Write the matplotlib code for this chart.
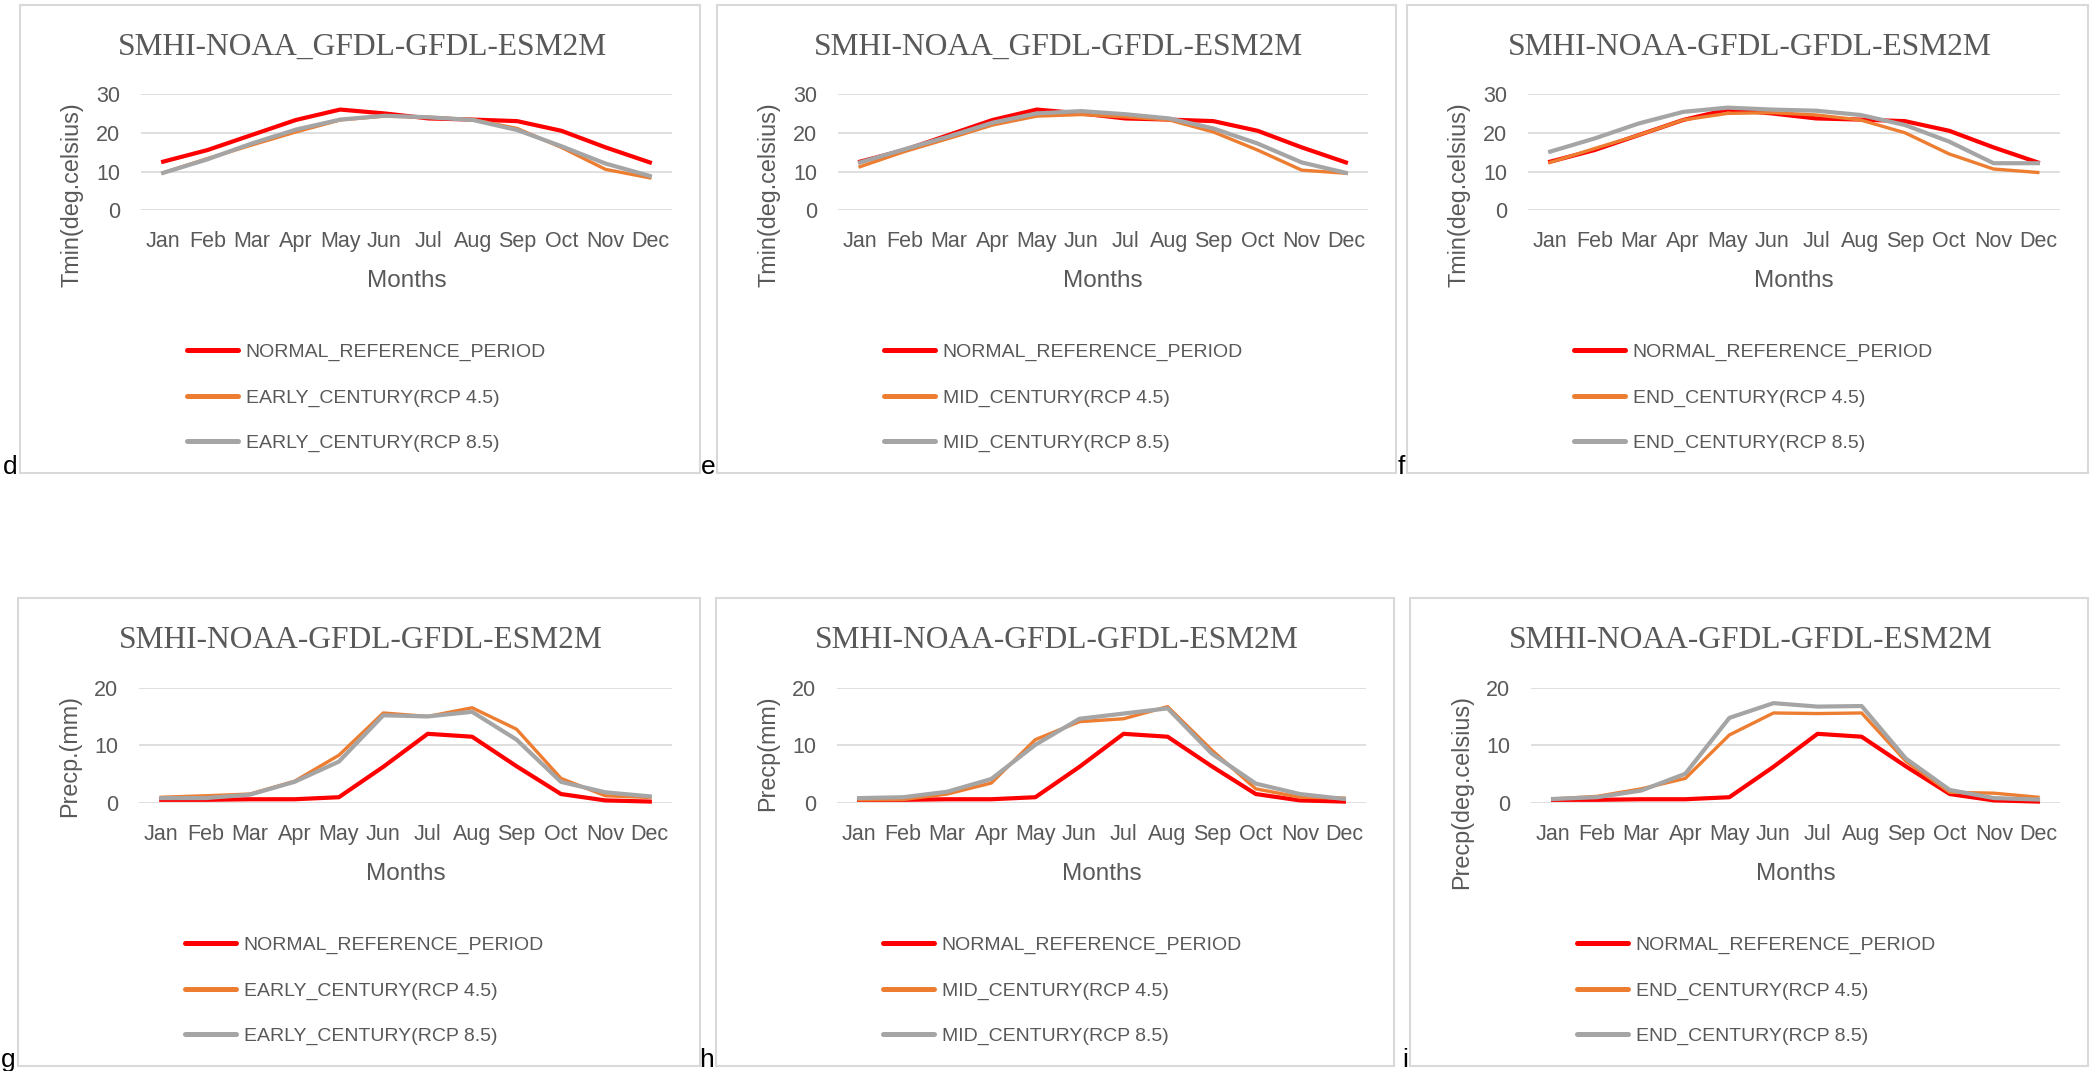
import matplotlib
matplotlib.use('Agg')
import matplotlib.pyplot as plt
from matplotlib.patches import Rectangle

# ---------------- data ----------------
months = ['Jan', 'Feb', 'Mar', 'Apr', 'May', 'Jun', 'Jul', 'Aug', 'Sep', 'Oct', 'Nov', 'Dec']

tmin_normal = [12.6, 15.6, 19.5, 23.4, 26.1, 25.1, 23.8, 23.5, 23.1, 20.6, 16.3, 12.4]
tmin_early_45 = [9.7, 13.4, 16.9, 20.3, 23.4, 24.4, 24.1, 23.5, 21.2, 16.3, 10.6, 8.4]
tmin_early_85 = [9.7, 13.2, 17.3, 20.9, 23.5, 24.5, 24.1, 23.4, 20.8, 16.6, 12.1, 8.9]
tmin_mid_45 = [11.3, 15.2, 18.6, 22.1, 24.4, 24.8, 24.2, 23.4, 20.3, 15.6, 10.4, 9.6]
tmin_mid_85 = [12.4, 15.8, 19.1, 22.7, 25.1, 25.7, 24.9, 23.8, 21.2, 17.3, 12.4, 9.7]
tmin_end_45 = [12.4, 16.0, 19.5, 23.4, 25.1, 25.3, 24.7, 23.4, 20.1, 14.6, 10.7, 9.8]
tmin_end_85 = [15.2, 18.6, 22.5, 25.5, 26.6, 26.1, 25.8, 24.7, 22.1, 17.8, 12.2, 12.2]

prec_normal = [0.6, 0.6, 0.7, 0.7, 1.05, 6.3, 12.0, 11.5, 6.4, 1.6, 0.5, 0.3]
prec_early_45 = [1.05, 1.3, 1.6, 3.8, 8.3, 15.6, 15.0, 16.5, 12.8, 4.3, 1.3, 1.0]
prec_early_85 = [0.9, 0.9, 1.5, 3.7, 7.2, 15.2, 15.0, 15.8, 11.0, 3.7, 1.9, 1.2]
prec_mid_45 = [0.6, 0.65, 1.6, 3.5, 11.0, 14.1, 14.6, 16.7, 9.2, 2.5, 1.05, 0.9]
prec_mid_85 = [0.9, 1.05, 2.0, 4.2, 10.1, 14.6, 15.5, 16.4, 8.6, 3.4, 1.6, 0.75]
prec_end_45 = [0.75, 1.2, 2.5, 4.3, 11.8, 15.6, 15.5, 15.6, 7.3, 1.9, 1.75, 1.05]
prec_end_85 = [0.75, 1.05, 2.2, 5.1, 14.75, 17.3, 16.7, 16.8, 7.75, 2.3, 0.9, 0.65]

titles = ['SMHI-NOAA_GFDL-GFDL-ESM2M', 'SMHI-NOAA_GFDL-GFDL-ESM2M', 'SMHI-NOAA-GFDL-GFDL-ESM2M',
          'SMHI-NOAA-GFDL-GFDL-ESM2M', 'SMHI-NOAA-GFDL-GFDL-ESM2M', 'SMHI-NOAA-GFDL-GFDL-ESM2M']
ylabels = ['Tmin(deg.celsius)', 'Tmin(deg.celsius)', 'Tmin(deg.celsius)',
           'Precp.(mm)', 'Precp(mm)', 'Precp(deg.celsius)']
panel_letters = ['d', 'e', 'f', 'g', 'h', 'i']
normal_label = 'NORMAL_REFERENCE_PERIOD'
period_labels = ['EARLY_CENTURY', 'MID_CENTURY', 'END_CENTURY']
yticks_tmin = [0, 10, 20, 30]
yticks_prec = [0, 10, 20]

# ---------------- style ----------------
W, H = 2090, 1071
fig = plt.figure(figsize=(W / 100, H / 100), dpi=100)
fig.patch.set_facecolor('white')

TXT = '#595959'
GRID = '#D9D9D9'
RED = '#FF0000'
ORANGE = '#ED7D31'
GRAY = '#A5A5A5'
SANS = ['Liberation Sans', 'DejaVu Sans']
SERIF = ['Liberation Serif', 'DejaVu Serif']

boxes = [(20, 5, 700, 473), (717, 5, 1396, 473), (1407, 5, 2088, 473),
         (18, 598, 700, 1066), (716, 598, 1394, 1066), (1410, 598, 2088, 1066)]

series_sets = [
    (tmin_normal, tmin_early_45, tmin_early_85),
    (tmin_normal, tmin_mid_45, tmin_mid_85),
    (tmin_normal, tmin_end_45, tmin_end_85),
    (prec_normal, prec_early_45, prec_early_85),
    (prec_normal, prec_mid_45, prec_mid_85),
    (prec_normal, prec_end_45, prec_end_85),
]


def fxp(px):
    return px / W


def fyp(py):
    return 1 - py / H


for i, (l, t, r, b) in enumerate(boxes):
    # panel frame
    fig.patches.append(Rectangle((fxp(l), fyp(b)), (r - l) / W, (b - t) / H,
                                 transform=fig.transFigure, fill=False,
                                 edgecolor=GRID, lw=1.5, zorder=0))
    pl, pr = l + 121, r - 28
    pt, pb = t + 89.5, t + 205.3
    ax = fig.add_axes([fxp(pl), fyp(pb), (pr - pl) / W, (pb - pt) / H])
    normal, s45, s85 = series_sets[i]
    x = list(range(len(months)))
    per = period_labels[i % 3]
    ax.plot(x, normal, color=RED, lw=3.0, solid_joinstyle='round', clip_on=False,
            label=normal_label, zorder=3)
    ax.plot(x, s45, color=ORANGE, lw=2.4, solid_joinstyle='round', clip_on=False,
            label=per + '(RCP 4.5)', zorder=4)
    ax.plot(x, s85, color=GRAY, lw=3.0, solid_joinstyle='round', clip_on=False,
            label=per + '(RCP 8.5)', zorder=5)
    yt = yticks_tmin if i < 3 else yticks_prec
    ax.set_xlim(-0.5, len(months) - 0.5)
    ax.set_ylim(yt[0], yt[-1])
    ax.set_yticks(yt)
    ax.set_xticks(x)
    ax.set_xticklabels(months, fontfamily=SANS)
    ax.set_yticklabels([str(v) for v in yt], fontfamily=SANS)
    ax.grid(axis='y', color=GRID, lw=1.2)
    ax.set_axisbelow(True)
    for s in ax.spines.values():
        s.set_visible(False)
    ax.tick_params(axis='both', length=0, colors=TXT, labelsize=15.5)
    ax.tick_params(axis='y', pad=15)
    ax.tick_params(axis='x', pad=15)

    # title
    fig.text(fxp((l + r) / 2 + 2), fyp(t + 50), titles[i], ha='center', va='baseline',
             fontsize=22.7, color=TXT, family=SERIF)
    # y label
    fig.text(fxp(l + 52), fyp(t + 97), ylabels[i], rotation=90, ha='center', va='top',
             fontsize=16.8, color=TXT, family=SANS)
    # x label
    fig.text(fxp((pl + pr) / 2), fyp(t + 282), 'Months', ha='center', va='baseline',
             fontsize=17.5, color=TXT, family=SANS)
    # legend
    leg = ax.legend(loc='center left', bbox_to_anchor=(fxp(l + 167), fyp(t + 393)),
                    bbox_transform=fig.transFigure, frameon=False, borderpad=0,
                    borderaxespad=0, handlelength=2.6, handletextpad=0.42,
                    labelspacing=1.42, prop={'family': SANS, 'size': 14})
    for txt in leg.get_texts():
        txt.set_color(TXT)
    for ln in leg.get_lines():
        ln.set_linewidth(3.6)
        ln.set_solid_capstyle('round')
    # panel letter
    fig.text(fxp(l - 2), fyp(b + 1), panel_letters[i], ha='right', va='baseline',
             fontsize=19, color='black', family=SANS)

fig.savefig('out.png', dpi=100, facecolor='white')
